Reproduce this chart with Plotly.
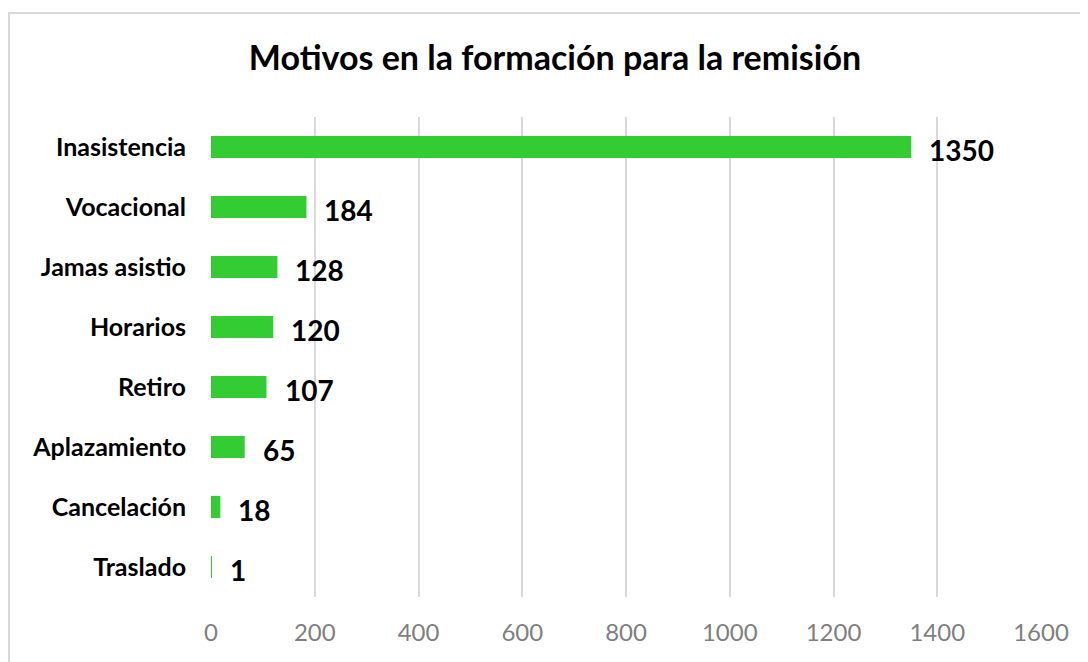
import plotly.graph_objects as go

categories = ["Inasistencia", "Vocacional", "Jamas asistio", "Horarios", "Retiro",
              "Aplazamiento", "Cancelación", "Traslado"]
values = [1350, 184, 128, 120, 107, 65, 18, 1]
tick_vals = [0, 200, 400, 600, 800, 1000, 1200, 1400, 1600]

FONT = "Lato, Carlito, 'Open Sans', sans-serif"

fig = go.Figure()
fig.add_trace(go.Bar(
    x=values, y=categories, orientation="h",
    marker=dict(color="#33CC33", line=dict(width=0)),
    width=0.37,
    hoverinfo="x+y",
))

for c, v in zip(categories, values):
    fig.add_annotation(x=v, y=c, text=f"<b>{v}</b>", showarrow=False,
                       xanchor="left", yanchor="middle", xshift=16, yshift=-3,
                       font=dict(family=FONT, size=28, color="#000000"))

W, H = 1088, 662
L, R, T, B = 203, 55, 109, 73
pw, ph = W - L - R, H - T - B

def px_to_paper_x(px):
    return (px - L) / pw

def px_to_paper_y(py):
    return 1 + (T - py) / ph

fig.add_shape(type="rect", xref="paper", yref="paper",
              x0=px_to_paper_x(1), x1=px_to_paper_x(W + 20),
              y0=px_to_paper_y(H + 20), y1=px_to_paper_y(5),
              line=dict(color="#D9D9D9", width=2), fillcolor="rgba(0,0,0,0)", layer="below")

fig.update_layout(
    width=W, height=H,
    margin=dict(l=L, r=R, t=T, b=B),
    paper_bgcolor="white", plot_bgcolor="white",
    showlegend=False,
    title=dict(text="<b>Motivos en la formación para la remisión</b>",
               x=547 / W, xanchor="center", y=1 - 50 / H, yanchor="middle",
               font=dict(family=FONT, size=34, color="#000000")),
    xaxis=dict(range=[0, 1600], tickvals=tick_vals, showgrid=True,
               gridcolor="#D9D9D9", gridwidth=2, zeroline=False, showline=False,
               ticks="", tickfont=dict(family=FONT, size=24, color="#7F7F7F"),
               ticklabelstandoff=19),
    yaxis=dict(categoryorder="array", categoryarray=categories[::-1],
               showgrid=False, zeroline=False, showline=False, ticks="",
               tickfont=dict(family=FONT, size=25, color="#000000"),
               ticklabelstandoff=24),
)
fig.update_yaxes(ticktext=[f"<b>{c}</b>" for c in categories], tickvals=categories)

fig.write_html("out.html")
